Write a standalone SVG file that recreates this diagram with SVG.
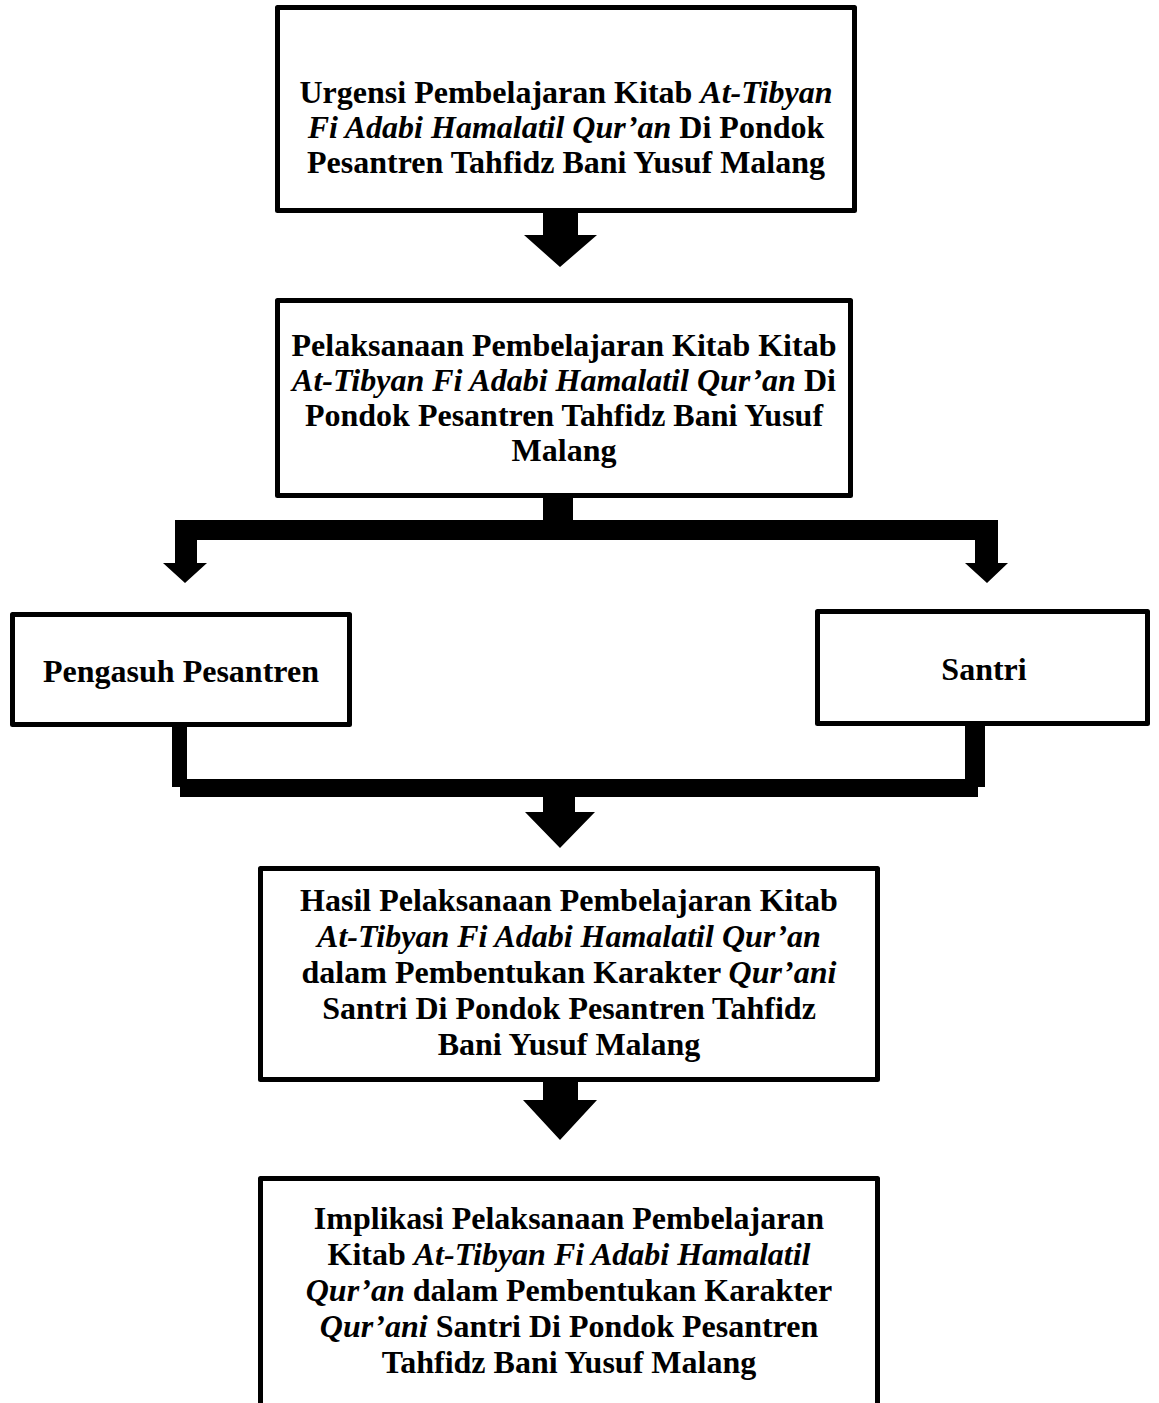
<svg xmlns="http://www.w3.org/2000/svg" width="1159" height="1403" viewBox="0 0 1159 1403">
<style>
.box{fill:#fff;stroke:#000;stroke-width:5;stroke-linejoin:round}
.t{font-family:"Liberation Serif","Times New Roman",serif;font-size:32px;font-weight:bold;text-anchor:middle;fill:#000}
.i{font-style:italic}
.c{fill:#000;stroke:none}
</style>
<rect width="1159" height="1403" fill="#fff"/>
<g id="connectors">
<polygon class="c" points="543,211 578,211 578,235 597,235 560,267 524,235 543,235"/>
<polygon class="c" points="543,496 573,496 573,520 998,520 998,563 1008,563 987,583 965,563 975,563 975,540 197,540 197,563 207,563 185,583 163,563 175,563 175,520 543,520"/>
<polygon class="c" points="172,725 187,725 187,779 965,779 965,725 985,725 985,787 978,787 978,797 575,797 575,812 595,812 560,848 525,812 543,812 543,797 180,797 180,787 172,787"/>
<polygon class="c" points="543,1080 578,1080 578,1100 597,1100 560,1140 523,1100 543,1100"/>
</g>
<g id="node1">
<rect class="box" x="277.5" y="7.5" width="577" height="203"/>
<text class="t" x="566" y="103">Urgensi Pembelajaran Kitab <tspan class="i">At-Tibyan</tspan></text>
<text class="t" x="566" y="138"><tspan class="i">Fi Adabi Hamalatil Qur’an</tspan> Di Pondok</text>
<text class="t" x="566" y="173">Pesantren Tahfidz Bani Yusuf Malang</text>
</g>
<g id="node2">
<rect class="box" x="277.5" y="300.5" width="573" height="195"/>
<text class="t" x="564" y="356">Pelaksanaan Pembelajaran Kitab Kitab</text>
<text class="t" x="564" y="391"><tspan class="i">At-Tibyan Fi Adabi Hamalatil Qur’an</tspan> Di</text>
<text class="t" x="564" y="426">Pondok Pesantren Tahfidz Bani Yusuf</text>
<text class="t" x="564" y="461">Malang</text>
</g>
<g id="node3">
<rect class="box" x="12.5" y="614.5" width="337" height="110"/>
<text class="t" x="181" y="682">Pengasuh Pesantren</text>
</g>
<g id="node4">
<rect class="box" x="817.5" y="611.5" width="330" height="112"/>
<text class="t" x="984" y="680">Santri</text>
</g>
<g id="node5">
<rect class="box" x="260.5" y="868.5" width="617" height="211"/>
<text class="t" x="569" y="911">Hasil Pelaksanaan Pembelajaran Kitab</text>
<text class="t" x="569" y="947"><tspan class="i">At-Tibyan Fi Adabi Hamalatil Qur’an</tspan></text>
<text class="t" x="569" y="983">dalam Pembentukan Karakter <tspan class="i">Qur’ani</tspan></text>
<text class="t" x="569" y="1019">Santri Di Pondok Pesantren Tahfidz</text>
<text class="t" x="569" y="1055">Bani Yusuf Malang</text>
</g>
<g id="node6">
<rect class="box" x="260.5" y="1178.5" width="617" height="240"/>
<text class="t" x="569" y="1229">Implikasi Pelaksanaan Pembelajaran</text>
<text class="t" x="569" y="1265">Kitab <tspan class="i">At-Tibyan Fi Adabi Hamalatil</tspan></text>
<text class="t" x="569" y="1301"><tspan class="i">Qur’an</tspan> dalam Pembentukan Karakter</text>
<text class="t" x="569" y="1337"><tspan class="i">Qur’ani</tspan> Santri Di Pondok Pesantren</text>
<text class="t" x="569" y="1373">Tahfidz Bani Yusuf Malang</text>
</g>
</svg>
